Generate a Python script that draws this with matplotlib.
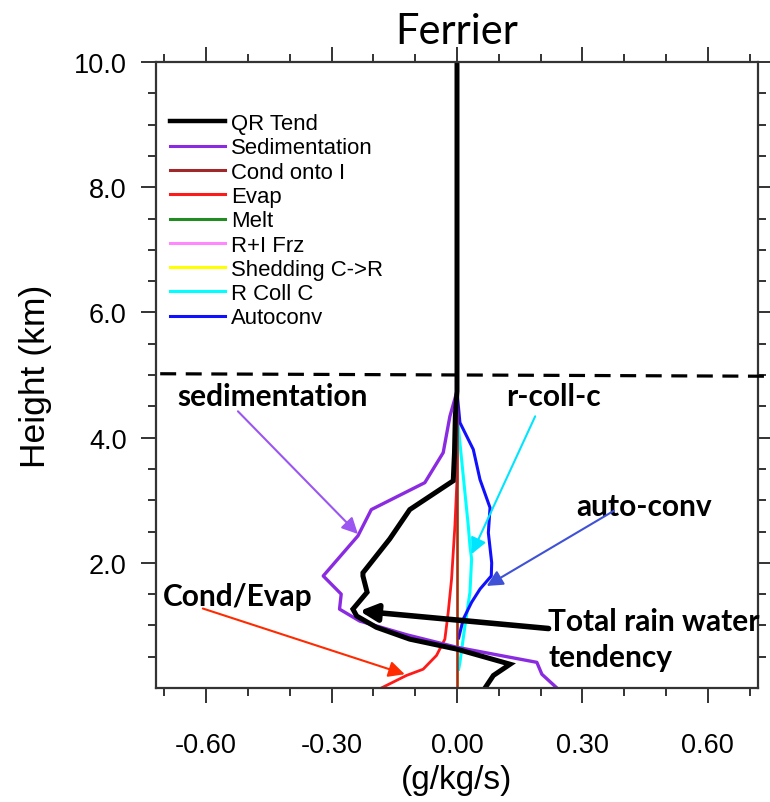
import matplotlib
matplotlib.use("Agg")
import matplotlib.pyplot as plt
from matplotlib.ticker import FixedLocator, FormatStrFormatter

# ---------------- data (height in km, tendency in g/kg/s) ----------------
qr_h = [0.0, 0.20, 0.38, 0.62, 0.78, 0.97, 1.15, 1.26, 1.53, 1.79, 1.84, 2.38, 2.85, 3.31, 3.76, 4.34, 4.74, 10.0]
qr_x = [0.067, 0.087, 0.127, 0.0, -0.113, -0.193, -0.240, -0.249, -0.215, -0.225, -0.225, -0.161, -0.113, -0.009, -0.006, -0.004, 0.0, 0.0]

sed_h = [0.0, 0.22, 0.41, 0.65, 0.85, 1.07, 1.26, 1.50, 1.79, 2.43, 2.85, 3.28, 3.76, 4.34, 4.74, 10.0]
sed_x = [0.239, 0.203, 0.191, 0.0, -0.12, -0.233, -0.281, -0.277, -0.32, -0.237, -0.205, -0.077, -0.033, -0.017, 0.0, 0.0]

cond_h = [0.0, 10.0]
cond_x = [0.0, 0.0]

evap_h = [0.0, 0.20, 0.30, 0.52, 0.78, 1.21, 1.74, 2.59, 3.33, 10.0]
evap_x = [-0.181, -0.121, -0.081, -0.049, -0.029, -0.021, -0.013, -0.005, 0.0, 0.0]

melt_h = [0.0, 10.0]
melt_x = [0.0, 0.0]
frz_h = [0.0, 10.0]
frz_x = [0.0, 0.0]
shed_h = [0.0, 10.0]
shed_x = [0.0, 0.0]

rcoll_h = [0.30, 0.41, 0.99, 1.53, 2.06, 2.27, 2.59, 3.12, 3.65, 4.18, 4.74]
rcoll_x = [0.004, 0.007, 0.019, 0.031, 0.035, 0.031, 0.027, 0.019, 0.011, 0.003, 0.0]

auto_h = [0.80, 1.10, 1.37, 1.58, 1.79, 2.00, 2.48, 2.88, 3.33, 3.81, 4.24, 4.74]
auto_x = [0.004, 0.015, 0.035, 0.055, 0.082, 0.083, 0.075, 0.079, 0.055, 0.039, 0.007, 0.0]

labels = ["QR Tend", "Sedimentation", "Cond onto I", "Evap", "Melt",
          "R+I Frz", "Shedding C->R", "R Coll C", "Autoconv"]
x_major = [-0.6, -0.3, 0.0, 0.3, 0.6]
y_major = [2.0, 4.0, 6.0, 8.0, 10.0]

# ---------------- figure ----------------
W, H = 770, 803
fig = plt.figure(figsize=(W / 100, H / 100), dpi=100)
L, R, T, B = 156, 758, 63, 689
ax = fig.add_axes([L / W, 1 - B / H, (R - L) / W, (B - T) / H])

tick_font = "Liberation Sans"
ann_font = "Lato"

c_black = "#000000"
c_purple = "#8a2be2"
c_brown = "#a0282a"
c_red = "#ff1a1a"
c_green = "#228b22"
c_pink = "#ff88ff"
c_yellow = "#ffff00"
c_cyan = "#00ffff"
c_blue = "#1010ff"

lines = {}
lines["Melt"], = ax.plot(melt_x, melt_h, color=c_green, lw=2.0)
lines["R+I Frz"], = ax.plot(frz_x, frz_h, color=c_pink, lw=2.0)
lines["Shedding C->R"], = ax.plot(shed_x, shed_h, color=c_yellow, lw=2.0)
lines["R Coll C"], = ax.plot(rcoll_x, rcoll_h, color=c_cyan, lw=2.2)
lines["Autoconv"], = ax.plot(auto_x, auto_h, color=c_blue, lw=2.2)
lines["Evap"], = ax.plot(evap_x, evap_h, color=c_red, lw=2.0)
lines["Cond onto I"], = ax.plot(cond_x, cond_h, color=c_brown, lw=1.8)
lines["Sedimentation"], = ax.plot(sed_x, sed_h, color=c_purple, lw=2.4)
lines["QR Tend"], = ax.plot(qr_x, qr_h, color=c_black, lw=3.6, solid_joinstyle="miter")

ax.set_xlim(-0.72, 0.72)
ax.set_ylim(0.0, 10.0)

# ticks
ax.xaxis.set_major_locator(FixedLocator(x_major))
ax.xaxis.set_minor_locator(FixedLocator([-0.7, -0.5, -0.4, -0.2, -0.1, 0.1, 0.2, 0.4, 0.5, 0.7]))
ax.yaxis.set_major_locator(FixedLocator(y_major))
ax.yaxis.set_minor_locator(FixedLocator([0.5, 1.0, 1.5, 2.5, 3.0, 3.5, 4.5, 5.0, 5.5,
                                         6.5, 7.0, 7.5, 8.5, 9.0, 9.5]))
ax.xaxis.set_major_formatter(FormatStrFormatter("%.2f"))
ax.yaxis.set_major_formatter(FormatStrFormatter("%.1f"))
ax.tick_params(which="both", direction="out", top=True, right=True,
               color="#333333", width=1.4)
ax.tick_params(which="major", length=11)
ax.tick_params(which="minor", length=5.5)
ax.tick_params(axis="x", which="major", pad=21)
ax.tick_params(axis="y", which="major", pad=10)
for lab in ax.get_xticklabels() + ax.get_yticklabels():
    lab.set_fontfamily(tick_font)
    lab.set_fontsize(19.5)
for s in ax.spines.values():
    s.set_linewidth(1.6)
    s.set_color("#333333")

ax.set_xlabel("(g/kg/s)", fontfamily=tick_font, fontsize=24, labelpad=4)
ax.set_ylabel("Height (km)", fontfamily=tick_font, fontsize=25.5, labelpad=16)
ax.set_title("Ferrier", fontfamily=ann_font, fontsize=30, pad=14)

# legend
handles = [lines[k] for k in labels]
leg = ax.legend(handles, labels, loc="upper left",
                bbox_to_anchor=((170 - L) / (R - L), (B - 114) / (B - T)),
                frameon=False, borderpad=0, borderaxespad=0,
                handlelength=2.5, handletextpad=0.28, labelspacing=0.15,
                prop={"family": tick_font, "size": 15.9})
for ln in leg.get_lines():
    ln.set_linewidth(2.2)
leg.get_lines()[0].set_linewidth(3.2)

# dashed separator line
ax.plot([-0.71, 0.752], [5.02, 4.98], color="black", lw=2.3,
        linestyle=(0, (5, 3)), clip_on=False, zorder=5)

# annotations
af = dict(fontfamily=ann_font, fontweight="bold", fontsize=21.5)
ax.text(-0.441, 4.66, "sedimentation", ha="center", va="center", **af)
ax.text(0.230, 4.66, "r-coll-c", ha="center", va="center", **af)
ax.text(0.448, 2.90, "auto-conv", ha="center", va="center", **af)
ax.text(-0.525, 1.47, "Cond/Evap", ha="center", va="center", **af)
ax.text(0.218, 1.07, "Total rain water", ha="left", va="center", clip_on=False, **af)
ax.text(0.218, 0.49, "tendency", ha="left", va="center", **af)

def arrow(x0, y0, x1, y1, color, lw=1.5, ms=24):
    ax.annotate("", xy=(x1, y1), xytext=(x0, y0),
                arrowprops=dict(arrowstyle="-|>", color=color, lw=lw,
                                mutation_scale=ms, shrinkA=0, shrinkB=0))

arrow(-0.524, 4.42, -0.237, 2.46, "#9b55f0")
arrow(0.187, 4.34, 0.035, 2.14, "#00e5ff")
arrow(0.375, 2.83, 0.071, 1.63, "#3f51d6")
arrow(-0.608, 1.27, -0.125, 0.22, "#ff2a00")
arrow(0.219, 0.95, -0.233, 1.23, "black", lw=4.0, ms=26)

fig.savefig("out.png", dpi=100)
